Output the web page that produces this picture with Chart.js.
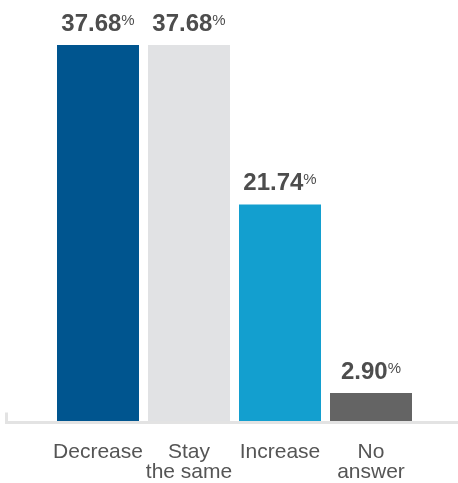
<!DOCTYPE html>
<html>
<head>
<meta charset="utf-8">
<title>Expected change</title>
<script src="https://cdn.jsdelivr.net/npm/chart.js@4/dist/chart.umd.min.js"></script>
<style>
  html, body { margin: 0; padding: 0; background: #fff; }
  #chart { display: block; }
</style>
</head>
<body>
<canvas id="chart" width="458" height="483"></canvas>
<script>
const categories = [['Decrease'], ['Stay', 'the same'], ['Increase'], ['No', 'answer']];
const shares = [37.68, 37.68, 21.74, 2.90];
const barColors = ['#00558f', '#e1e2e4', '#139fcf', '#646464'];

const FONT = "'Liberation Sans', Arial, Helvetica, sans-serif";
const TEXT = '#4d4d4d';
const AXIS = '#e3e3e3';

// light baseline with a short upturn at the left end
const baseline = {
  id: 'baseline',
  afterDatasetsDraw(chart) {
    const { ctx, chartArea } = chart;
    const y = chartArea.bottom + 0.5;
    ctx.save();
    ctx.strokeStyle = AXIS;
    ctx.lineWidth = 3;
    ctx.beginPath();
    ctx.moveTo(6.5, y - 10);
    ctx.lineTo(6.5, y);
    ctx.lineTo(chart.width, y);
    ctx.stroke();
    ctx.restore();
  },
};

// value above each bar, with a small raised percent sign
const valueLabels = {
  id: 'valueLabels',
  afterDatasetsDraw(chart) {
    const { ctx } = chart;
    const meta = chart.getDatasetMeta(0);
    ctx.save();
    ctx.fillStyle = TEXT;
    ctx.textBaseline = 'alphabetic';
    ctx.textAlign = 'left';
    meta.data.forEach((bar, i) => {
      const num = shares[i].toFixed(2);
      ctx.font = `bold 24px ${FONT}`;
      const w1 = ctx.measureText(num).width;
      ctx.font = `15px ${FONT}`;
      const w2 = ctx.measureText('%').width;
      const x0 = bar.x - (w1 + w2) / 2;
      const y = bar.y - 14;
      ctx.font = `bold 24px ${FONT}`;
      ctx.fillText(num, x0, y);
      ctx.font = `15px ${FONT}`;
      ctx.fillText('%', x0 + w1, y - 6);
    });
    ctx.restore();
  },
};

new Chart(document.getElementById('chart'), {
  type: 'bar',
  data: {
    labels: categories,
    datasets: [{
      data: shares,
      backgroundColor: barColors,
      borderWidth: 0,
      categoryPercentage: 1,
      barPercentage: 82 / 91,
    }],
  },
  options: {
    responsive: false,
    animation: false,
    layout: { padding: { top: 45, left: 52.5, right: 41.5, bottom: 1 } },
    plugins: {
      legend: { display: false },
      tooltip: { enabled: false },
    },
    scales: {
      x: {
        grid: { display: false, drawTicks: false },
        border: { display: false },
        afterFit(scale) { scale.height = 60; },
        ticks: {
          padding: 20,
          color: '#555',
          font: { family: FONT, size: 21, lineHeight: '20px' },
          maxRotation: 0,
          autoSkip: false,
        },
      },
      y: {
        display: false,
        min: 0,
        max: 37.68,
      },
    },
  },
  plugins: [baseline, valueLabels],
});
</script>
</body>
</html>
